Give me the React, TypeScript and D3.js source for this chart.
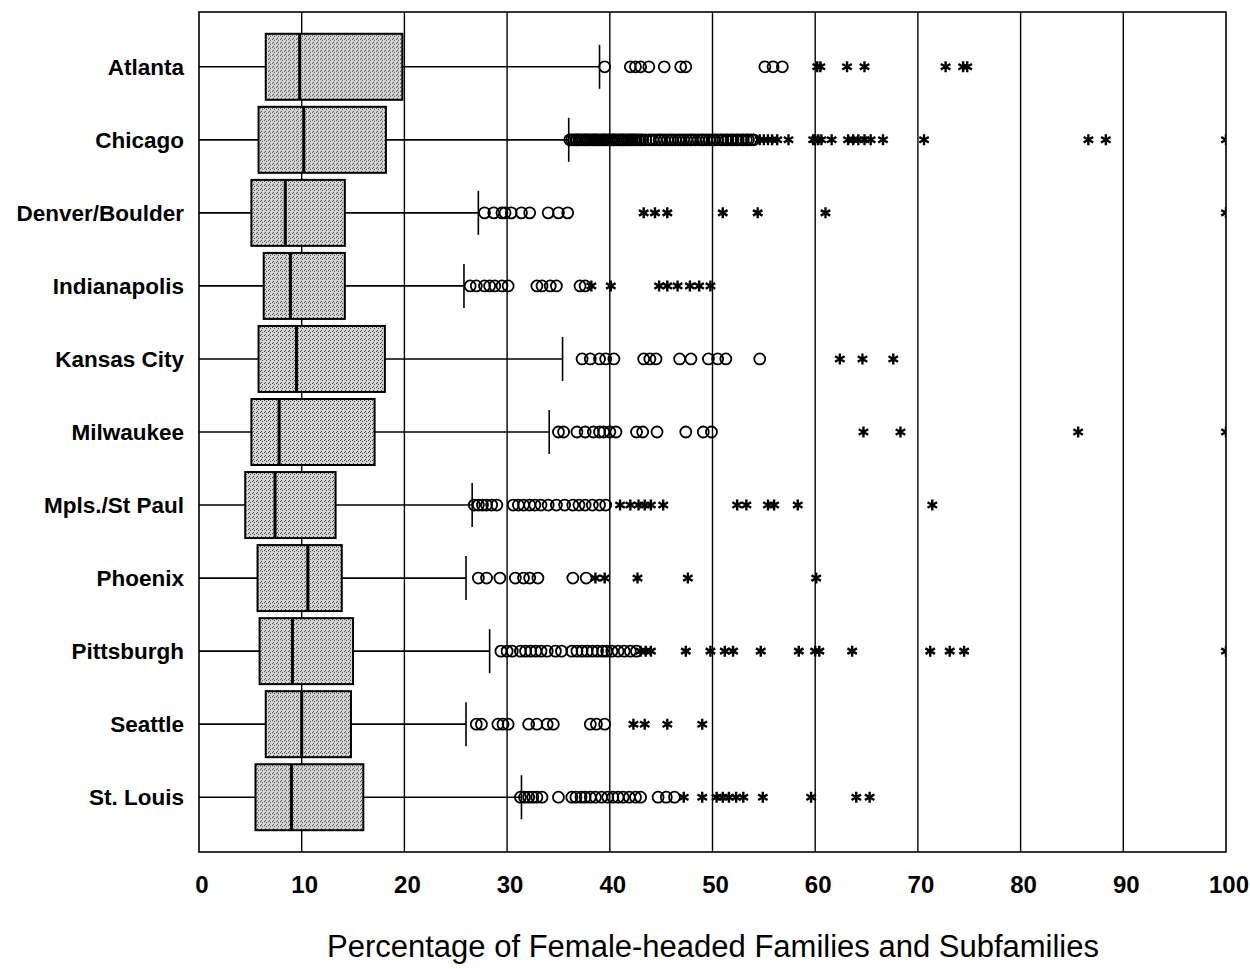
import * as d3 from "d3";
import { useEffect, useRef } from "react";

const WIDTH = 1250;
const HEIGHT = 969;
const PLOT = { left: 199, right: 1226, top: 12, bottom: 852 };

const cities = [
  "Atlanta",
  "Chicago",
  "Denver/Boulder",
  "Indianapolis",
  "Kansas City",
  "Milwaukee",
  "Mpls./St Paul",
  "Phoenix",
  "Pittsburgh",
  "Seattle",
  "St. Louis",
];

const lowWhisker = [0, 0, 0, 0, 0, 0, 0, 0, 0, 0, 0];
const q1 = [6.5, 5.8, 5.1, 6.3, 5.8, 5.1, 4.5, 5.7, 5.9, 6.5, 5.5];
const median = [9.8, 10.2, 8.4, 8.9, 9.5, 7.8, 7.4, 10.6, 9.1, 10.0, 9.0];
const q3 = [19.8, 18.2, 14.2, 14.2, 18.1, 17.1, 13.3, 13.9, 15.0, 14.8, 16.0];
const highWhisker = [39.0, 36.0, 27.2, 25.8, 35.4, 34.1, 26.6, 26.0, 28.3, 26.0, 31.4];

// outliers (circles)
const outliers: number[][] = [
  [39.5, 42.0, 42.5, 43.0, 43.8, 45.3, 46.9, 47.4, 55.1, 55.9, 56.8],
  [
    36.1, 36.3, 36.5, 36.7, 36.8, 37.0, 37.2, 37.4, 37.6, 37.7, 37.9, 38.1,
    38.3, 38.5, 38.6, 38.8, 39.0, 39.2, 39.4, 39.5, 39.7, 39.9, 40.1, 40.3,
    40.4, 40.6, 40.8, 41.0, 41.2, 41.3, 41.5, 41.7, 41.9, 42.1, 42.2, 42.4,
    42.6, 42.8, 43.0, 43.2, 43.5, 43.9, 44.2, 44.5, 44.8, 45.0, 45.3, 45.6,
    45.9, 46.1, 46.4, 46.7, 46.9, 47.2, 47.5, 47.8, 48.0, 48.3, 48.6, 48.9,
    49.1, 49.4, 49.7, 50.0, 50.2, 50.5, 50.8, 51.0, 51.3, 51.5, 51.8, 52.0,
    52.3, 52.5, 52.8, 53.0, 53.3, 53.5, 53.8, 54.0,
  ],
  [27.8, 28.7, 29.5, 29.8, 30.4, 31.4, 32.2, 34.0, 35.0, 35.9],
  [26.4, 27.0, 27.8, 28.3, 28.8, 29.5, 30.1, 32.9, 33.4, 34.2, 34.8, 37.1, 37.6],
  [37.3, 38.1, 39.0, 39.6, 40.4, 43.3, 43.9, 44.5, 46.8, 47.9, 49.6, 50.5, 51.3, 54.6],
  [35.0, 35.5, 36.8, 37.6, 38.4, 39.0, 39.4, 40.0, 40.6, 42.6, 43.2, 44.6, 47.4, 49.1, 49.9],
  [
    26.8, 27.2, 27.6, 28.0, 28.5, 29.0, 30.6, 31.1, 31.6, 32.2, 32.7, 33.3,
    34.0, 34.8, 35.6, 36.4, 37.0, 37.6, 38.3, 39.0, 39.6,
  ],
  [27.2, 28.0, 29.3, 30.8, 31.6, 32.2, 33.0, 36.4, 37.7],
  [
    29.4, 30.0, 30.5, 31.3, 31.8, 32.3, 32.8, 33.3, 33.9, 34.7, 35.3, 36.3,
    36.8, 37.3, 37.8, 38.3, 38.8, 39.3, 39.7, 40.2, 40.8, 41.4, 42.0, 42.6,
  ],
  [27.0, 27.5, 29.1, 29.6, 30.1, 32.1, 32.9, 33.9, 34.5, 38.1, 38.7, 39.5],
  [
    31.3, 31.7, 32.1, 32.5, 32.9, 33.4, 35.0, 36.3, 36.7, 37.2, 37.6, 38.1,
    38.6, 39.2, 39.8, 40.3, 40.8, 41.3, 41.9, 42.5, 43.0, 44.7, 45.5, 46.3,
  ],
];

// extreme values (asterisks)
const extremes: number[][] = [
  [60.2, 60.5, 63.1, 64.8, 72.7, 74.4, 74.8],
  [54.6, 55.0, 55.4, 55.8, 56.3, 57.4, 59.8, 60.0, 60.3, 60.6, 61.6, 63.2, 63.7, 64.2, 64.8, 65.4, 66.6, 70.6, 86.6, 88.3, 100],
  [43.3, 44.4, 45.6, 51.0, 54.4, 61.0, 100],
  [38.2, 40.1, 44.8, 45.6, 46.6, 47.8, 48.7, 49.8],
  [62.4, 64.6, 67.6],
  [64.7, 68.3, 85.6, 100],
  [41.0, 42.0, 42.8, 43.4, 44.0, 45.2, 52.4, 53.3, 55.4, 56.0, 58.3, 71.4],
  [38.6, 39.5, 42.7, 47.6, 60.1],
  [43.0, 43.5, 44.0, 47.4, 49.8, 51.2, 52.0, 54.7, 58.4, 60.0, 60.4, 63.6, 71.2, 73.1, 74.5, 100],
  [42.3, 43.4, 45.6, 49.0],
  [47.2, 49.0, 50.4, 51.0, 51.6, 52.3, 53.0, 54.9, 59.6, 64.0, 65.3],
];

const xTicks = [0, 10, 20, 30, 40, 50, 60, 70, 80, 90, 100];
const xTitle = "Percentage of Female-headed Families and Subfamilies";

const FONT = "'Liberation Sans', Arial, sans-serif";

export default function App() {
  const svgRef = useRef<SVGSVGElement>(null);

  useEffect(() => {
    if (!svgRef.current) return;
    const svg = d3.select(svgRef.current);
    svg.selectAll("*").remove();

    const x = d3.scaleLinear().domain([0, 100]).range([PLOT.left, PLOT.right]);
    const y = d3
      .scalePoint<string>()
      .domain(cities)
      .range([PLOT.top, PLOT.bottom])
      .padding(0.75);
    const boxH = 66;
    const capH = 44;

    const defs = svg.append("defs");
    const pat = defs
      .append("pattern")
      .attr("id", "stipple")
      .attr("patternUnits", "userSpaceOnUse")
      .attr("width", 4)
      .attr("height", 4);
    pat.append("rect").attr("width", 4).attr("height", 4).attr("fill", "#d6d6d6");
    [
      [0, 0],
      [2, 1],
      [1, 3],
    ].forEach(([px, py]) => {
      pat
        .append("rect")
        .attr("x", px)
        .attr("y", py)
        .attr("width", 1)
        .attr("height", 1)
        .attr("fill", "#444");
    });
    defs
      .append("clipPath")
      .attr("id", "plotClip")
      .append("rect")
      .attr("x", PLOT.left)
      .attr("y", PLOT.top)
      .attr("width", PLOT.right - PLOT.left)
      .attr("height", PLOT.bottom - PLOT.top);

    svg.append("rect").attr("width", WIDTH).attr("height", HEIGHT).attr("fill", "#fff");

    // vertical grid lines
    svg
      .append("g")
      .selectAll("line")
      .data(xTicks.slice(1, -1))
      .join("line")
      .attr("x1", (d) => x(d))
      .attr("x2", (d) => x(d))
      .attr("y1", PLOT.top)
      .attr("y2", PLOT.bottom)
      .attr("stroke", "#000")
      .attr("stroke-width", 1.4);

    const rows = svg
      .append("g")
      .attr("clip-path", "url(#plotClip)")
      .selectAll("g")
      .data(cities)
      .join("g")
      .attr("transform", (d) => `translate(0,${y(d)})`);

    // whiskers
    rows
      .append("line")
      .attr("x1", (_, i) => x(lowWhisker[i]))
      .attr("x2", (_, i) => x(q1[i]))
      .attr("stroke", "#000")
      .attr("stroke-width", 1.6);
    rows
      .append("line")
      .attr("x1", (_, i) => x(q3[i]))
      .attr("x2", (_, i) => x(highWhisker[i]))
      .attr("stroke", "#000")
      .attr("stroke-width", 1.6);
    rows
      .append("line")
      .attr("x1", (_, i) => x(highWhisker[i]))
      .attr("x2", (_, i) => x(highWhisker[i]))
      .attr("y1", -capH / 2)
      .attr("y2", capH / 2)
      .attr("stroke", "#000")
      .attr("stroke-width", 1.6);

    // boxes
    rows
      .append("rect")
      .attr("x", (_, i) => x(q1[i]))
      .attr("y", -boxH / 2)
      .attr("width", (_, i) => x(q3[i]) - x(q1[i]))
      .attr("height", boxH)
      .attr("fill", "url(#stipple)")
      .attr("stroke", "#000")
      .attr("stroke-width", 2);
    rows
      .append("line")
      .attr("x1", (_, i) => x(median[i]))
      .attr("x2", (_, i) => x(median[i]))
      .attr("y1", -boxH / 2)
      .attr("y2", boxH / 2)
      .attr("stroke", "#000")
      .attr("stroke-width", 3);

    // outliers and extremes
    rows
      .selectAll("circle")
      .data((_, i) => outliers[i])
      .join("circle")
      .attr("cx", (d) => x(d))
      .attr("r", 5.5)
      .attr("fill", "none")
      .attr("stroke", "#000")
      .attr("stroke-width", 1.8);
    const star = d3.symbol().type(d3.symbolAsterisk).size(85);
    rows
      .selectAll("path")
      .data((_, i) => extremes[i])
      .join("path")
      .attr("transform", (d) => `translate(${x(d)},0)`)
      .attr("d", star)
      .attr("fill", "none")
      .attr("stroke", "#000")
      .attr("stroke-width", 2.4);

    // plot frame
    svg
      .append("rect")
      .attr("x", PLOT.left)
      .attr("y", PLOT.top)
      .attr("width", PLOT.right - PLOT.left)
      .attr("height", PLOT.bottom - PLOT.top)
      .attr("fill", "none")
      .attr("stroke", "#000")
      .attr("stroke-width", 1.6);

    // category labels
    svg
      .append("g")
      .selectAll("text")
      .data(cities)
      .join("text")
      .attr("x", 184)
      .attr("y", (d) => (y(d) ?? 0) + 8)
      .attr("text-anchor", "end")
      .attr("font-family", FONT)
      .attr("font-weight", "bold")
      .attr("font-size", 22.5)
      .text((d) => d);

    // x tick labels
    svg
      .append("g")
      .selectAll("text")
      .data(xTicks)
      .join("text")
      .attr("x", (d) => x(d) + 3)
      .attr("y", 893)
      .attr("text-anchor", "middle")
      .attr("font-family", FONT)
      .attr("font-weight", "bold")
      .attr("font-size", 24)
      .text((d) => d);

    svg
      .append("text")
      .attr("x", 713)
      .attr("y", 957)
      .attr("text-anchor", "middle")
      .attr("font-family", FONT)
      .attr("font-size", 31)
      .text(xTitle);
  }, []);

  return (
    <svg
      ref={svgRef}
      width={WIDTH}
      height={HEIGHT}
      style={{ position: "absolute", left: 0, top: 0 }}
    />
  );
}
